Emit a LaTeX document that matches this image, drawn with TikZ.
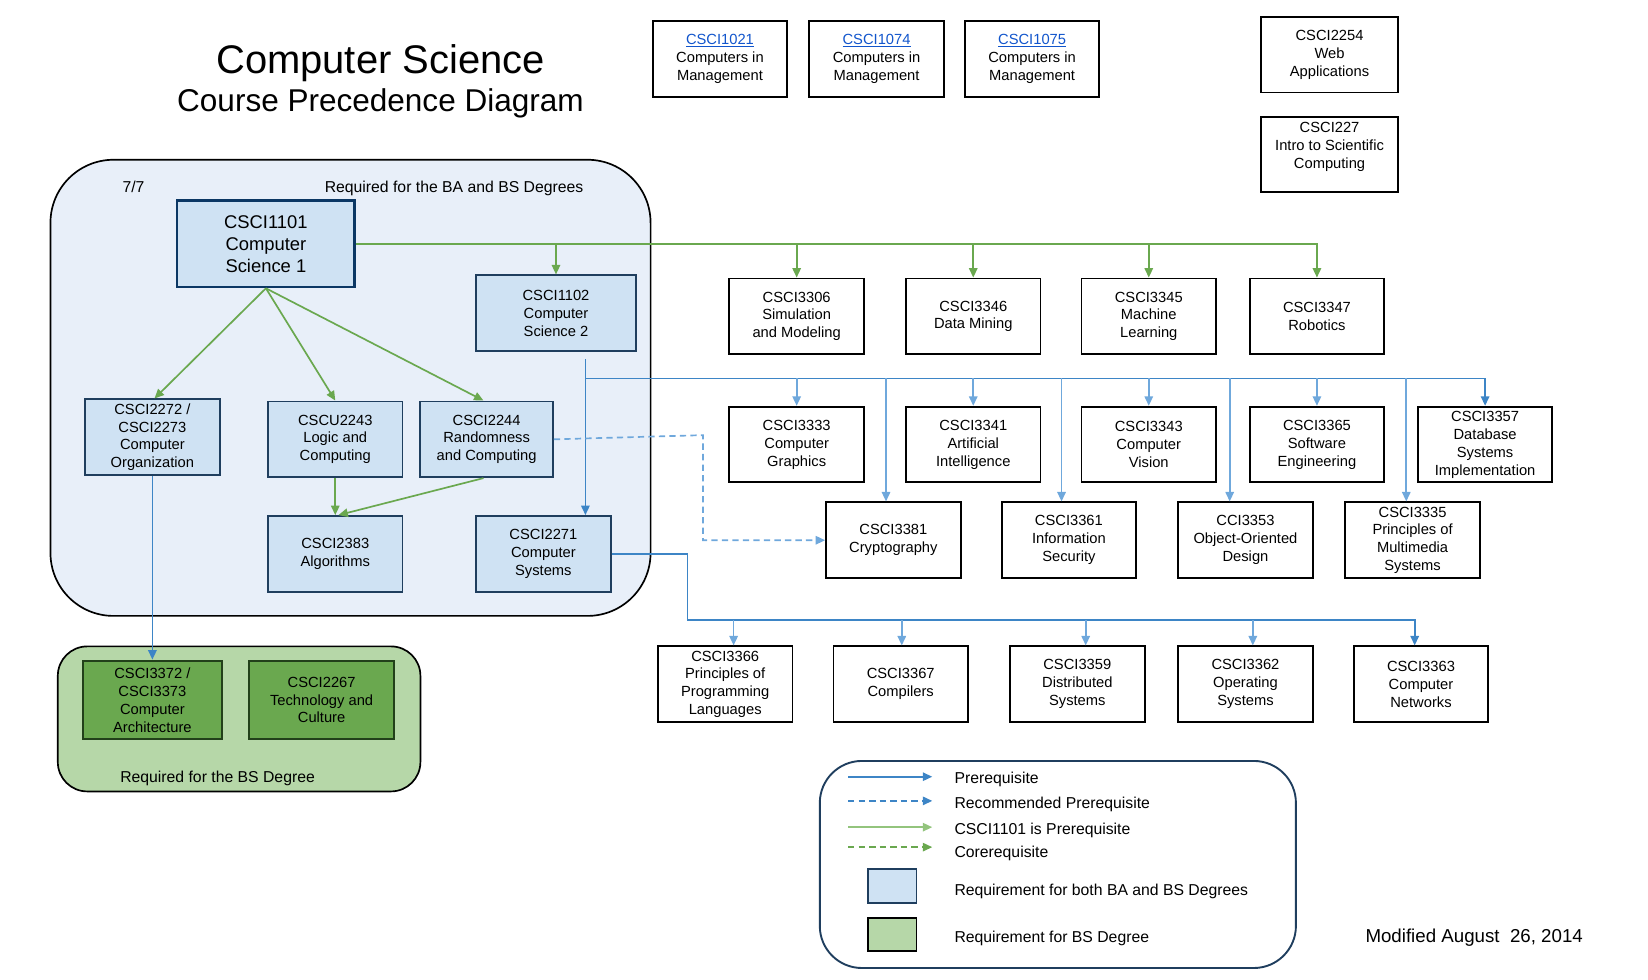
\documentclass[tikz,border=0pt]{standalone}
\usepackage{fontspec}
\setmainfont{Liberation Sans}
\usetikzlibrary{arrows.meta}
\definecolor{bleufond}{HTML}{E8EFF9}
\definecolor{bleuboite}{HTML}{CFE2F3}
\definecolor{bleubord}{HTML}{1F3E5E}
\definecolor{bleumarine}{HTML}{0B3764}
\definecolor{bleutrait}{HTML}{3D85C6}
\definecolor{bleuclair}{HTML}{6FA8DC}
\definecolor{vertfond}{HTML}{B6D7A8}
\definecolor{vertboite}{HTML}{6AA84F}
\definecolor{vertbord}{HTML}{22401A}
\definecolor{verttrait}{HTML}{6AA84F}
\definecolor{vertclair}{HTML}{93C47D}
\definecolor{lien}{HTML}{1155CC}
\begin{document}
\begin{tikzpicture}[x=1pt,y=-1pt]
		\tikzset{cours/.style={draw, line width=1.8pt, minimum width=128pt, minimum height=72pt, align=center, inner sep=1pt, font=\fontsize{14}{17}\selectfont}}
		\tikzset{coursba/.style={cours, draw=bleubord, fill=bleuboite}}
		\tikzset{coursbs/.style={cours, draw=vertbord, fill=vertboite, minimum height=75pt}}
		\tikzset{fleche/.style={line width=1.6pt, -{Triangle[length=9pt,width=8pt]}}}
		\tikzset{texte/.style={font=\fontsize{15}{18}\selectfont, inner sep=0pt}}
		\useasboundingbox (0,0) rectangle (1568,932);

		\draw[rounded corners=60pt, line width=1.6pt, fill=bleufond] (48,152) rectangle (619,586);
		\draw[rounded corners=28pt, line width=1.6pt, fill=vertfond] (55,615) rectangle (400,753);

		\node[font=\fontsize{38}{44}\selectfont] (titre) at (362,60) {Computer Science};
		\node[font=\fontsize{30}{36}\selectfont] (soustitre) at (362,98) {Course Precedence Diagram};
		\node[texte] (date) at (127,178) {7/7};
		\node[texte] (reqba) at (432,179) {Required for the BA and BS Degrees};
		\node[texte] (reqbs) at (207,741) {Required for the BS Degree};

		\node[cours] (c1021) at (685,56) {\textcolor{lien}{\underline{CSCI1021}}\\Computers in\\Management};
		\node[cours] (c1074) at (834,56) {\textcolor{lien}{\underline{CSCI1074}}\\Computers in\\Management};
		\node[cours] (c1075) at (982,56) {\textcolor{lien}{\underline{CSCI1075}}\\Computers in\\Management};
		\node[cours, minimum width=130pt] (c2254) at (1265,52) {CSCI2254\\Web\\Applications};
		\node[cours, minimum width=130pt, minimum height=71pt] (c227) at (1265,147) {CSCI227\\Intro to Scientific\\Computing\\\mbox{}};

		\node[coursba, line width=2.6pt, draw=bleumarine, minimum width=169pt, minimum height=82pt, font=\fontsize{17.5}{21}\selectfont] (c1101) at (253,232) {CSCI1101\\Computer\\Science 1};
		\node[coursba, minimum width=153pt] (c1102) at (529,298) {CSCI1102\\Computer\\Science 2};
		\node[coursba, minimum width=129pt] (c2272) at (145,416) {CSCI2272 /\\CSCI2273\\Computer\\Organization};
		\node[coursba] (c2243) at (319,418) {CSCU2243\\Logic and\\Computing};
		\node[coursba, minimum width=126pt] (c2244) at (463,418) {CSCI2244\\Randomness\\and Computing};
		\node[coursba] (c2383) at (319,527) {CSCI2383\\Algorithms};
		\node[coursba] (c2271) at (517,527) {CSCI2271\\Computer\\Systems};

		\node[coursbs, minimum width=132pt] (c3372) at (145,666) {CSCI3372 /\\CSCI3373\\Computer\\Architecture};
		\node[coursbs, minimum width=138pt] (c2267) at (306,666) {CSCI2267\\Technology and\\Culture};

		\node[cours] (c3306) at (758,301) {CSCI3306\\Simulation\\and Modeling};
		\node[cours] (c3346) at (926,301) {CSCI3346\\Data Mining};
		\node[cours] (c3345) at (1093,301) {CSCI3345\\Machine\\Learning};
		\node[cours] (c3347) at (1253,301) {CSCI3347\\Robotics};

		\node[cours] (c3333) at (758,423) {CSCI3333\\Computer\\Graphics};
		\node[cours] (c3341) at (926,423) {CSCI3341\\Artificial\\Intelligence};
		\node[cours] (c3343) at (1093,423) {CSCI3343\\Computer\\Vision};
		\node[cours] (c3365) at (1253,423) {CSCI3365\\Software\\Engineering};
		\node[cours] (c3357) at (1413,423) {CSCI3357\\Database\\Systems\\Implementation};

		\node[cours] (c3381) at (850,514) {CSCI3381\\Cryptography};
		\node[cours] (c3361) at (1017,514) {CSCI3361\\Information\\Security};
		\node[cours] (c3353) at (1185,514) {CCI3353\\Object-Oriented\\Design};
		\node[cours] (c3335) at (1344,514) {CSCI3335\\Principles of\\Multimedia\\Systems};

		\node[cours] (c3366) at (690,651) {CSCI3366\\Principles of\\Programming\\Languages};
		\node[cours] (c3367) at (857,651) {CSCI3367\\Compilers};
		\node[cours] (c3359) at (1025,651) {CSCI3359\\Distributed\\Systems};
		\node[cours] (c3362) at (1185,651) {CSCI3362\\Operating\\Systems};
		\node[cours] (c3363) at (1352,651) {CSCI3363\\Computer\\Networks};

    \draw[fleche, verttrait] (c1101.east) -| (c3347.north);
    \foreach \c in {c1102,c3306,c3346,c3345}
      \draw[fleche, verttrait] (c1101.east -| \c.north) -- (\c.north);
    \draw[fleche, verttrait] (c1101.south) -- ([xshift=2pt]c2272.north);
    \draw[fleche, verttrait] (c1101.south) -- (c2243.north);
    \draw[fleche, verttrait] (c1101.south) -- ([xshift=-3pt]c2244.north);
    \draw[fleche, verttrait] (c2243.south) -- (c2383.north);
    \draw[fleche, verttrait] ([xshift=-3pt]c2244.south) -- ([xshift=3pt]c2383.north);

    \draw[fleche, bleutrait] (c2272.south) -- (c3372.north);

    \coordinate (bdepart) at (557,342);
    \coordinate (bcoin) at (557,360);
    \draw[fleche, bleutrait] (bdepart) -- (bdepart |- c2271.north);
    \draw[fleche, bleutrait] (bcoin) -| (c3357.north);
    \foreach \c in {c3333,c3341,c3343,c3365}
      \draw[fleche, bleuclair] (bcoin -| \c.north) -- (\c.north);
    \foreach \c/\d in {c3381/-7,c3361/-7,c3353/-15,c3335/-6} {
      \coordinate (p) at ([xshift=\d pt]\c.north);
      \draw[fleche, bleuclair] (p |- bcoin) -- (p);
    }

    \coordinate (scoin) at (654,590);
    \draw[fleche, bleutrait] (c2271.east) -| (scoin) -| ([xshift=-6pt]c3363.north);
    \foreach \c/\d in {c3366/8,c3367/1,c3359/8,c3362/7} {
      \coordinate (p) at ([xshift=\d pt]\c.north);
      \draw[fleche, bleuclair] (p |- scoin) -- (p);
    }

    \draw[fleche, bleuclair, dash pattern=on 6pt off 4pt] (c2244.east) -- ++(142,-4) |- (c3381.west);

		\draw[rounded corners=40pt, line width=1.8pt, draw=bleubord] (780,724) rectangle (1233,921);
		\coordinate (la1) at (807,739); \coordinate (lb1) at (887,739);
		\coordinate (la2) at (807,762); \coordinate (lb2) at (887,762);
		\coordinate (la3) at (807,787); \coordinate (lb3) at (887,787);
		\coordinate (la4) at (807,806); \coordinate (lb4) at (887,806);
    \draw[fleche, bleutrait] (la1) -- (lb1);
    \draw[fleche, bleutrait, dash pattern=on 6pt off 4pt] (la2) -- (lb2);
    \draw[fleche, vertclair] (la3) -- (lb3);
    \draw[fleche, verttrait, dash pattern=on 6pt off 4pt] (la4) -- (lb4);
		\node[texte, anchor=west] (t1) at (908,742) {Prerequisite};
		\node[texte, anchor=west] (t2) at (908,765) {Recommended Prerequisite};
		\node[texte, anchor=west] (t3) at (908,790) {CSCI1101 is Prerequisite};
		\node[texte, anchor=west] (t4) at (908,812) {Corerequisite};
		\node[draw=bleubord, fill=bleuboite, line width=1.8pt, minimum width=46pt, minimum height=32pt] (carreba) at (849,843) {};
		\node[draw=black, fill=vertfond, line width=1.8pt, minimum width=46pt, minimum height=32pt] (carrebs) at (849,889) {};
		\node[texte, anchor=west] (t5) at (908,848) {Requirement for both BA and BS Degrees};
		\node[texte, anchor=west] (t6) at (908,893) {Requirement for BS Degree};

		\node[font=\fontsize{17.8}{22}\selectfont, anchor=west, inner sep=0pt] (modif) at (1299,892) {Modified August\ \ 26, 2014};

		\end{tikzpicture}
\end{document}
